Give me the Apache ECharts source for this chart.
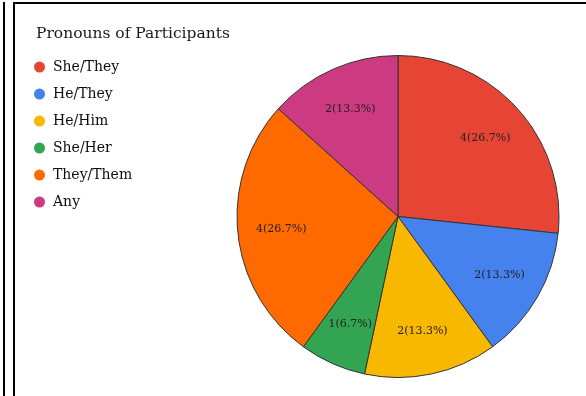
<!DOCTYPE html>
<html>
<head>
<meta charset="utf-8">
<script src="https://cdn.jsdelivr.net/npm/echarts@6/dist/echarts.min.js"></script>
<style>
  html, body { margin: 0; padding: 0; background: #fff; }
  #wrap { position: relative; width: 586px; height: 396px; overflow: hidden; background: #fff; }
  #outerLine { position: absolute; left: 3px; top: 2px; width: 2px; height: 400px; background: #000; }
  #frame { position: absolute; left: 13px; top: 2px; width: 600px; height: 400px;
           border-left: 2px solid #000; border-top: 2px solid #000; box-sizing: border-box; }
  #chart { position: absolute; left: 0; top: 0; width: 586px; height: 396px; }
</style>
</head>
<body>
<div id="wrap">
  <div id="outerLine"></div>
  <div id="frame"></div>
  <div id="chart"></div>
</div>
<script>
// Pronoun responses, in slice order (clockwise from 12 o'clock)
const categories = ['She/They', 'He/They', 'He/Him', 'She/Her', 'They/Them', 'Any'];
const counts = [4, 2, 2, 1, 4, 2];
const sliceColors = ['#e64536', '#4582ee', '#f9b800', '#33a552', '#ff6a00', '#cc3b82'];
const chartTitle = 'Pronouns of Participants';

const total = counts.reduce((a, b) => a + b, 0);
const pieData = categories.map((name, i) => ({ name, value: counts[i] }));

const serif = '"DejaVu Serif", "Liberation Serif", serif';
const center = [398, 216.5];
const outerR = 161;

const chart = echarts.init(document.getElementById('chart'), null, { renderer: 'canvas' });
chart.setOption({
  animation: false,
  color: sliceColors,
  title: {
    text: chartTitle,
    left: 31,
    top: 21,
    textStyle: { fontFamily: serif, fontSize: 15.5, fontWeight: 'normal', color: '#1a1a1a' }
  },
  legend: {
    orient: 'vertical',
    left: 29,
    top: 54,
    icon: 'circle',
    itemWidth: 11,
    itemHeight: 11,
    itemGap: 11,
    data: categories,
    itemStyle: { borderWidth: 0 },
    textStyle: { fontFamily: serif, fontSize: 14, fontWeight: 'normal', color: '#0d0d0d', lineHeight: 16, padding: [0, 0, 0, 3] }
  },
  series: [
    {
      type: 'pie',
      center: center,
      radius: [0, outerR],
      startAngle: 90,
      clockwise: true,
      data: pieData,
      label: { show: false },
      labelLine: { show: false },
      itemStyle: { borderColor: '#333', borderWidth: 1 },
      emphasis: { disabled: true }
    },
    {
      // ring used only to place the value labels further out than mid-radius
      type: 'pie',
      center: center,
      radius: [outerR * 0.42, outerR],
      startAngle: 90,
      clockwise: true,
      silent: true,
      data: pieData,
      itemStyle: { color: 'rgba(0,0,0,0)', borderWidth: 0 },
      label: {
        show: true,
        position: 'inside',
        fontFamily: serif,
        fontSize: 11,
        color: '#222',
        formatter: p => p.value + '(' + (p.value / total * 100).toFixed(1) + '%)'
      },
      labelLine: { show: false },
      emphasis: { disabled: true }
    }
  ]
});
</script>
</body>
</html>
